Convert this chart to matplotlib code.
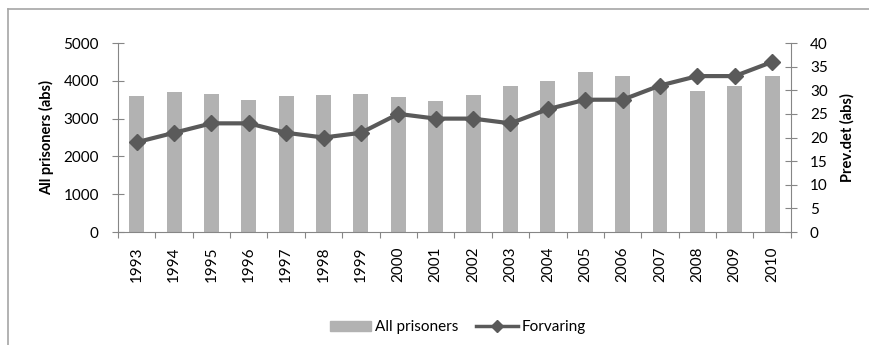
import matplotlib
matplotlib.use("Agg")
import matplotlib.pyplot as plt
from matplotlib.lines import Line2D
from matplotlib.patches import Patch
import numpy as np

plt.rcParams['font.family'] = ['Lato', 'DejaVu Sans']

# Data
years = ['1993', '1994', '1995', '1996', '1997', '1998', '1999', '2000', '2001',
         '2002', '2003', '2004', '2005', '2006', '2007', '2008', '2009', '2010']
all_prisoners = [3600, 3700, 3650, 3500, 3600, 3620, 3660, 3570, 3460,
                 3620, 3860, 3990, 4230, 4140, 3880, 3720, 3870, 4140]
forvaring = [19, 21, 23, 23, 21, 20, 21, 25, 24,
             24, 23, 26, 28, 28, 31, 33, 33, 36]

axis_grey = '#868686'
bar_grey = '#b2b2b2'
line_grey = '#5a5a5a'

fig = plt.figure(figsize=(8.7, 3.45), dpi=100)
ax = fig.add_axes([0.1356, 0.3275, 0.7734, 0.5478])
ax2 = ax.twinx()

x = np.arange(len(years))
ax.bar(x, all_prisoners, width=0.4, color=bar_grey, zorder=2)
ax2.plot(x, forvaring, color=line_grey, lw=3, marker='D', ms=8.5, zorder=3)

ax.set_xlim(-0.5, len(years) - 0.5)
ax.set_ylim(0, 5000)
ax2.set_ylim(0, 40)
ax.set_yticks(range(0, 5001, 1000))
ax2.set_yticks(range(0, 41, 5))

# x ticks at category boundaries, labels at centers
ax.set_xticks(np.arange(-0.5, len(years), 1.0))
ax.set_xticklabels([])
ax.set_xticks(x, minor=True)
ax.set_xticklabels(years, minor=True, rotation=90, fontsize=11)
ax.tick_params(axis='x', which='major', direction='out', length=4.5, color=axis_grey)
ax.tick_params(axis='x', which='minor', length=0, pad=10.5)

ax.tick_params(axis='y', direction='inout', length=8.5, color=axis_grey,
               labelsize=11, pad=9.5)
ax2.tick_params(axis='y', direction='inout', length=8.5, color=axis_grey,
                labelsize=11, pad=9.5)

for a in (ax, ax2):
    a.spines['top'].set_visible(False)
    for s in ('left', 'right', 'bottom'):
        a.spines[s].set_color(axis_grey)
ax.spines['right'].set_visible(False)
ax2.spines['left'].set_visible(False)
ax2.spines['bottom'].set_visible(False)

ax.set_ylabel('All prisoners (abs)', fontsize=10.5, fontweight='bold', labelpad=7)
ax2.set_ylabel('Prev.det (abs)', fontsize=10.5, fontweight='bold', labelpad=9)

# legend below the chart
handles = [Patch(color=bar_grey),
           Line2D([], [], color=line_grey, lw=2.5, marker='D', ms=6)]
fig.legend(handles, ['All prisoners', 'Forvaring'], loc='center',
           bbox_to_anchor=(0.526, 0.052), ncol=2, frameon=False, fontsize=11,
           handlelength=2.7, handleheight=0.6, columnspacing=1.2,
           handletextpad=0.25)

# chart area border (cut at right and bottom)
fig.add_artist(Line2D([8 / 870, 8 / 870], [0, 1 - 9 / 345], color='#a6a6a6', lw=1.2))
fig.add_artist(Line2D([8 / 870, 1], [1 - 9 / 345, 1 - 9 / 345], color='#a6a6a6', lw=1.2))

fig.savefig('out.png', dpi=100)
